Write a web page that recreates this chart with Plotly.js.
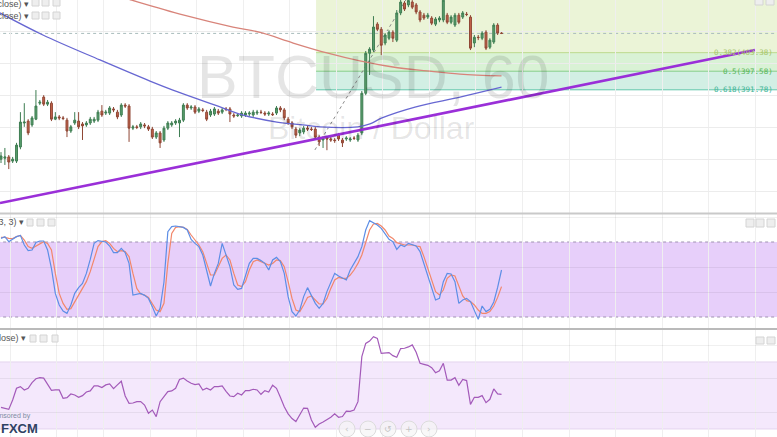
<!DOCTYPE html>
<html><head><meta charset="utf-8">
<script src="https://cdn.plot.ly/plotly-3.0.1.min.js"></script>
<style>html,body{margin:0;padding:0;background:#fff;overflow:hidden}#chart{width:777px;height:437px}</style>
</head><body><div id="chart"></div>
<script>
// ---------- DATA (BTCUSD, 60 min) ----------
const candleIndex = Array.from({length:130}, (_, i) => i);
const open = [370.1,370.4,370.8,369.5,369.5,373.9,381.4,382.0,380.8,382.6,
387.6,389.5,387.3,387.6,382.6,383.3,383.0,382.3,378.9,381.4,
382.0,381.1,380.8,381.4,382.0,382.3,385.1,384.5,384.5,385.8,
384.8,383.9,387.0,386.7,379.8,380.2,380.2,380.8,380.2,379.5,
377.0,378.3,376.1,379.8,380.8,381.4,381.4,382.3,387.0,386.1,
386.4,385.1,385.5,384.8,383.9,384.2,385.1,384.8,385.8,385.8,
383.9,383.7,383.6,383.9,384.2,383.9,384.5,384.8,384.5,384.2,
384.2,384.5,386.1,385.5,382.6,381.4,379.5,378.3,378.6,379.8,
379.5,379.5,377.0,376.1,376.7,376.4,376.1,377.6,376.1,376.4,
376.1,376.7,376.1,378.3,390.7,403.2,404.2,412.3,410.7,406.4,
407.9,409.8,407.3,415.8,418.9,418.3,419.2,418.3,416.1,415.1,
414.5,414.2,412.3,413.6,413.6,415.1,412.9,412.0,415.1,414.5,
415.4,414.5,406.4,408.2,407.9,409.8,405.1,406.7,412.0,409.5];
const high = [372.3,373.6,371.4,370.8,375.2,384.8,387.6,382.6,383.6,391.7,
388.6,390.1,388.6,388.2,384.8,383.9,383.6,383.0,380.8,384.8,
384.8,381.7,382.0,383.3,383.3,385.5,387.0,385.5,386.7,386.4,
385.5,387.6,387.6,387.3,380.8,380.8,381.7,381.4,380.8,380.2,
378.9,378.9,380.5,382.0,382.0,382.6,383.0,387.6,387.6,387.0,
387.0,386.4,386.1,385.5,385.8,386.4,385.8,386.1,386.4,386.4,
384.5,384.5,385.1,385.1,385.1,385.5,385.5,385.5,385.1,385.1,
384.8,386.7,386.7,386.1,383.3,382.0,380.2,379.8,380.5,380.5,
380.2,380.2,377.6,377.3,377.3,377.0,376.7,378.3,376.7,377.3,
377.0,377.3,378.3,391.4,403.9,405.1,414.8,412.9,411.4,409.5,
410.4,410.4,416.7,420.8,419.5,420.8,419.8,418.9,416.7,415.8,
415.8,414.8,414.5,414.8,420.5,415.8,415.1,415.8,415.8,416.4,
416.1,415.1,408.9,408.9,410.1,410.4,407.9,412.6,412.6,409.8];
const low = [368.9,368.3,367.0,368.9,368.9,373.2,380.2,377.6,380.2,382.3,
387.0,386.7,386.7,382.0,382.3,382.3,382.3,377.0,378.3,380.8,
379.5,376.1,380.2,380.8,381.4,381.7,383.3,383.9,383.9,384.8,
382.6,383.3,386.1,375.5,379.2,379.5,379.5,379.8,378.9,376.4,
376.4,373.6,375.5,379.2,380.2,380.8,377.0,381.7,385.5,385.5,
384.2,384.5,384.8,382.0,383.3,383.6,383.9,384.2,385.1,381.7,
383.0,383.3,383.0,383.3,383.6,383.3,383.9,384.2,383.6,383.6,
383.6,383.9,384.8,382.3,380.8,379.5,376.7,377.3,377.9,378.9,
378.9,376.4,374.2,373.6,372.9,375.5,375.2,375.8,373.9,375.8,
375.5,376.1,375.5,377.6,390.1,396.4,403.6,410.1,402.6,405.7,
407.3,406.7,406.7,415.1,416.4,417.6,417.0,415.4,412.9,413.6,
413.9,412.0,411.7,412.9,412.9,412.3,412.3,411.4,412.3,413.9,
414.8,404.2,405.1,407.3,407.3,404.2,404.5,406.1,408.9,409.2];
const close = [371.1,370.8,369.2,370.1,374.5,381.7,381.7,378.3,383.0,386.7,
387.9,387.3,387.9,382.6,383.3,383.0,382.8,378.9,380.2,382.3,
380.2,380.5,381.4,382.6,382.6,384.8,383.9,384.8,386.1,385.5,
383.3,387.0,386.7,379.8,380.2,380.0,381.1,380.5,379.5,377.0,
378.3,375.2,379.8,381.4,381.4,382.0,382.3,387.0,386.1,386.4,
384.8,385.8,385.3,382.6,385.1,385.8,384.5,385.5,385.6,384.2,
383.6,383.9,384.5,384.5,384.5,384.8,384.8,384.7,384.2,384.5,
384.0,386.1,385.5,383.0,381.4,380.2,377.6,379.2,379.8,379.5,
379.4,377.0,375.5,376.7,376.4,376.1,375.9,376.4,375.2,376.7,
376.4,376.6,377.6,390.7,403.2,404.5,411.4,410.7,405.7,408.9,
409.8,407.9,415.8,419.2,417.0,419.7,417.6,416.1,413.6,414.2,
415.1,412.6,413.9,414.2,419.8,412.9,414.5,415.1,412.9,415.8,
415.3,404.8,408.2,408.1,409.5,404.8,407.3,412.0,409.5,409.4];

// moving averages
const maRedX = [28.0,33.7,46.9,59.8,66.8,75.3,84.0,92.5,101.0,109.8,118.3,129.0];
const maRedY = [421.9,419.8,415.2,411.4,409.7,406.4,403.3,400.8,398.9,397.7,396.7,396.1];
const maBlueX = [-0.26,10.8,25.5,38.4,44.3,55.2,62.4,71.1,77.8,82.2,92.0,95.1,98.2,106.7,118.3,129.0];
const maBlueY = [415.8,408.9,401.1,394.5,391.7,387.0,383.9,381.7,380.8,380.2,380.2,381.1,383.0,386.4,389.5,392.6];

// rising trend line
const trendX = [-0.26, 194.3];
const trendY = [356.4, 404.2];

// Fibonacci retracement
const fibLevels = [0.382, 0.5, 0.618];
const fibPrices = [403.38, 397.58, 391.78];
const fibLowHigh = [372.99, 422.16];
const fibX = [80.9, 105.5];

// Stochastic (14,3,3)
const stochK = [82.9,84.3,80.3,82.1,84.3,85.3,77.6,73.1,73.6,79.7,
80.8,80.8,73.6,58.9,38.9,29.6,24.8,22.9,29.6,38.9,
43.5,46.9,54.9,66.1,78.9,81.1,80.8,80.0,76.8,71.5,
71.5,74.9,71.5,62.9,37.6,38.4,38.9,37.3,34.9,28.3,
20.8,27.0,48.0,88.3,92.3,92.8,92.3,91.7,89.6,82.1,
78.9,76.3,69.6,57.6,44.8,54.9,62.9,78.9,69.6,60.3,
45.6,42.1,42.9,52.3,62.9,66.9,66.9,65.1,62.9,57.6,
65.6,67.7,64.3,54.9,36.3,24.3,20.8,25.6,36.3,43.5,
36.8,30.9,26.9,30.9,40.3,48.3,54.9,52.8,50.9,49.6,
57.6,62.9,68.3,76.3,89.6,97.1,95.5,93.6,90.9,86.4,
82.1,80.3,74.1,77.6,76.3,78.9,78.1,76.8,72.3,62.9,
53.6,44.3,33.6,34.9,48.3,54.9,54.4,48.3,30.9,33.6,
34.9,32.3,25.6,18.1,28.8,24.3,26.1,32.0,43.7,57.6];
const stochD = [83.7,83.7,82.9,82.7,84.3,85.3,81.6,76.3,74.9,76.8,
78.9,80.3,78.9,73.6,54.9,38.9,30.9,26.1,26.7,32.3,
37.6,42.9,48.3,56.3,66.1,76.3,80.3,81.1,78.9,74.9,
72.3,73.1,72.3,68.3,54.9,42.9,38.4,37.6,35.7,30.9,
25.6,24.3,30.9,62.9,86.9,91.7,92.3,91.7,90.1,85.6,
81.6,77.6,72.3,62.9,53.6,53.6,60.3,66.9,69.6,65.6,
54.9,45.6,44.3,48.3,57.6,64.3,65.6,64.3,63.5,61.6,
62.9,65.6,65.1,60.3,48.3,34.9,25.6,24.3,29.6,35.7,
36.8,33.6,30.4,30.4,34.9,42.9,49.6,51.7,50.9,50.9,
53.6,57.6,62.9,69.6,80.3,89.6,94.4,94.9,92.8,89.6,
84.8,82.9,79.5,78.4,77.6,77.6,77.6,76.8,76.3,68.3,
58.9,48.3,40.3,37.6,41.6,50.9,53.6,52.8,44.3,36.8,
33.1,32.3,29.6,25.6,22.9,22.9,24.3,28.8,35.7,44.3];

// RSI (14, close)
const rsi = [42.9,42.3,41.7,47.3,54.3,55.3,53.3,54.3,57.7,60.0,
60.6,60.4,56.3,53.1,53.3,53.3,48.3,48.7,50.9,50.3,
48.9,49.9,52.1,52.7,55.7,55.7,54.7,56.3,56.9,54.1,
56.3,58.5,49.7,45.3,45.5,46.3,46.3,44.3,39.4,41.3,
37.4,46.3,49.3,52.3,52.7,54.3,59.6,60.4,58.7,57.3,
56.5,56.9,53.3,54.3,53.3,55.3,55.3,55.7,52.5,49.7,
49.3,51.3,50.3,52.9,52.9,53.7,53.3,50.7,52.9,52.1,
56.1,54.3,48.9,43.3,39.0,36.2,34.4,38.4,42.5,42.3,
35.4,31.0,33.0,34.2,35.4,37.0,39.0,37.0,37.4,40.7,
40.5,41.3,46.3,73.2,81.1,82.5,85.1,84.1,75.2,75.2,
75.6,73.8,72.8,78.0,78.2,79.0,80.2,75.8,69.2,68.6,
68.0,66.6,63.6,64.8,69.2,59.2,59.2,60.6,56.1,59.6,
58.9,44.7,48.9,48.9,49.9,45.7,47.7,53.9,50.9,50.7];

const legendTexts = ['SMA (200, close)', 'SMA (100, close)', 'Stoch (14, 3, 3)', 'RSI (14, close)'];
const navSymbols = ['\u2039', '\u2212', '\u21BA', '+', '\u203A'];

// ---------- LAYOUT HELPERS ----------
const W = 777, H = 437;
const PX = v => v / W, PY = v => 1 - v / H;
const lastPrice = close[close.length - 1];
const gridTicks = [2.4, 14.4, 19.6];
for (let t = 26.4; t < 200; t += 12) gridTicks.push(+t.toFixed(1));

const xBase = {range:[-0.26, 200], tickmode:'array', tickvals:gridTicks, showticklabels:false, ticks:'',
  showgrid:true, gridcolor:'#efefef', gridwidth:1, zeroline:false, showline:false, fixedrange:true};

const shapes = [];
// fib zones
const fStart = 81.2;
shapes.push({type:'rect', xref:'x', yref:'y', x0:fStart, x1:205, y0:fibPrices[0], y1:fibLowHigh[1]+5, fillcolor:'#ebf4d7', line:{width:0}, layer:'below'});
shapes.push({type:'rect', xref:'x', yref:'y', x0:fStart, x1:205, y0:fibPrices[1], y1:fibPrices[0], fillcolor:'#d9f2d5', line:{width:0}, layer:'below'});
shapes.push({type:'rect', xref:'x', yref:'y', x0:fStart, x1:205, y0:fibPrices[2], y1:fibPrices[1], fillcolor:'#d2efe4', line:{width:0}, layer:'below'});
const fibLineCols = ['#bcd98c', '#86cd8a', '#62c6ab'];
const fibTextCols = ['#a6c56a', '#56b456', '#3db394'];
fibPrices.forEach((p, k) => shapes.push({type:'line', xref:'x', yref:'y', x0:fStart, x1:205, y0:p, y1:p, line:{color:fibLineCols[k], width:1}, layer:'below'}));
// last price dotted line
shapes.push({type:'line', xref:'x', yref:'y', x0:-1, x1:205, y0:lastPrice, y1:lastPrice, line:{color:'#a9bcbc', width:1, dash:'dot'}, layer:'below'});
// fib diagonal
shapes.push({type:'line', xref:'x', yref:'y', x0:fibX[0], x1:fibX[1], y0:fibLowHigh[0], y1:fibLowHigh[1], line:{color:'#8a8a8a', width:1, dash:'dot'}, layer:'below'});
// stoch band
shapes.push({type:'rect', xref:'x2', yref:'y2', x0:-1, x1:205, y0:20, y1:80, fillcolor:'#e7cffa', line:{width:0}, layer:'below'});
[20, 80].forEach(v => shapes.push({type:'line', xref:'x2', yref:'y2', x0:-1, x1:205, y0:v, y1:v, line:{color:'#9f92b0', width:1, dash:'dot'}, layer:'below'}));
// rsi band
shapes.push({type:'rect', xref:'x3', yref:'y3', x0:-1, x1:205, y0:30, y1:70, fillcolor:'#f4e8fc', line:{width:0}, layer:'below'});
[30, 70].forEach(v => shapes.push({type:'line', xref:'x3', yref:'y3', x0:-1, x1:205, y0:v, y1:v, line:{color:'#e4d4ef', width:1}, layer:'below'}));
// pane separators
shapes.push({type:'line', xref:'paper', yref:'paper', x0:0, x1:1, y0:PY(213.5), y1:PY(213.5), line:{color:'#c9c9c9', width:2}});
shapes.push({type:'line', xref:'paper', yref:'paper', x0:0, x1:1, y0:PY(329), y1:PY(329), line:{color:'#a3a3a3', width:1.5}});
// small icon boxes
function box(x0, y0, x1, y1) {
  shapes.push({type:'rect', xref:'paper', yref:'paper', x0:PX(x0), x1:PX(x1), y0:PY(y1), y1:PY(y0), fillcolor:'#eeeeee', line:{color:'#d4d4d4', width:1}});
}
[[32,-3,39,6],[42,-3,49,6],[53,-3,60,6],
 [32,12,39,19],[42,12,49,19],[53,12,60,19],
 [27,219,33,226],[37,219,44,226],[48,219,55,226],
 [30,335,36,342],[40,335,47,342],[52,335,58,342],
 [755,-3,763,5],[766,-3,774,5],
 [746,219,754,227],[756,219,764,227],[767,219,775,227],
 [756,337,764,344],[767,337,775,344]].forEach(b => box(...b));
// nav circles
const navX = [347, 368, 388, 409, 429];
navX.forEach(x => shapes.push({type:'circle', xref:'paper', yref:'paper', x0:PX(x-8), x1:PX(x+8), y0:PY(437), y1:PY(421), fillcolor:'rgba(245,245,245,0.7)', line:{color:'#dcdcdc', width:1}}));

const annotations = [];
// watermark
annotations.push({xref:'paper', yref:'paper', x:PX(373), y:PY(77), text:'BTCUSD, 60', showarrow:false, xanchor:'center', yanchor:'middle',
  font:{family:'Liberation Sans, Arial, sans-serif', size:61, color:'rgba(0,0,0,0.10)'}});
annotations.push({xref:'paper', yref:'paper', x:PX(371), y:PY(128), text:'Bitcoin / Dollar', showarrow:false, xanchor:'center', yanchor:'middle',
  font:{family:'Liberation Sans, Arial, sans-serif', size:32, color:'rgba(0,0,0,0.10)'}});
// fib labels
fibPrices.forEach((p, k) => annotations.push({xref:'paper', yref:'y', x:PX(775), y:p, xanchor:'right', yanchor:'middle', showarrow:false,
  text:fibLevels[k] + '(' + p.toFixed(2) + ')', font:{family:'DejaVu Sans Mono, monospace', size:7.5, color:fibTextCols[k]}}));
// legend texts
const legPos = [[3.5, 31], [16, 31], [222, 26], [338, 28]];
legendTexts.forEach((t, k) => annotations.push({xref:'paper', yref:'paper', x:PX(legPos[k][1]), y:PY(legPos[k][0]), xanchor:'right', yanchor:'middle', showarrow:false,
  text:t + ' \u25BE', font:{family:'Liberation Sans, Arial, sans-serif', size:9, color:'#555'}}));
// sponsor
annotations.push({xref:'paper', yref:'paper', x:PX(33), y:PY(416), xanchor:'right', yanchor:'middle', showarrow:false,
  text:'Sponsored by', font:{family:'Liberation Sans, Arial, sans-serif', size:7, color:'#7d8ca3'}});
annotations.push({xref:'paper', yref:'paper', x:PX(-1), y:PY(428.5), xanchor:'left', yanchor:'middle', showarrow:false,
  text:'<b>FXCM</b>', font:{family:'Liberation Sans, Arial, sans-serif', size:13, color:'#2f4163'}});
navSymbols.forEach((s, k) => annotations.push({xref:'paper', yref:'paper', x:PX(navX[k]), y:PY(429), xanchor:'center', yanchor:'middle', showarrow:false,
  text:s, font:{family:'DejaVu Sans, sans-serif', size:9, color:'#c4c4c4'}}));

const traces = [
  {type:'candlestick', x:candleIndex, open:open, high:high, low:low, close:close, xaxis:'x', yaxis:'y',
   increasing:{line:{color:'#3e7d52', width:1}, fillcolor:'#5a9f6d'},
   decreasing:{line:{color:'#8f4634', width:1}, fillcolor:'#c4634b'},
   whiskerwidth:0, hoverinfo:'skip'},
  {type:'scatter', mode:'lines', x:maRedX, y:maRedY, xaxis:'x', yaxis:'y', line:{color:'#d8847a', width:1.3, shape:'spline'}, hoverinfo:'skip'},
  {type:'scatter', mode:'lines', x:maBlueX, y:maBlueY, xaxis:'x', yaxis:'y', line:{color:'#6767d2', width:1.3, shape:'spline'}, hoverinfo:'skip'},
  {type:'scatter', mode:'lines', x:trendX, y:trendY, xaxis:'x', yaxis:'y', line:{color:'#9a2fd8', width:2.6}, hoverinfo:'skip'},
  {type:'scatter', mode:'lines', x:candleIndex, y:stochD, xaxis:'x2', yaxis:'y2', line:{color:'#f2876a', width:1.2}, hoverinfo:'skip'},
  {type:'scatter', mode:'lines', x:candleIndex, y:stochK, xaxis:'x2', yaxis:'y2', line:{color:'#5d8ee6', width:1.2}, hoverinfo:'skip'},
  {type:'scatter', mode:'lines', x:candleIndex, y:rsi, xaxis:'x3', yaxis:'y3', line:{color:'#a35ab9', width:1.2}, hoverinfo:'skip'}
];

const layout = {
  width:W, height:H, margin:{l:0, r:0, t:0, b:0}, paper_bgcolor:'#ffffff', plot_bgcolor:'rgba(0,0,0,0)',
  showlegend:false, hovermode:false,
  xaxis:Object.assign({}, xBase, {anchor:'y', rangeslider:{visible:false}}),
  xaxis2:Object.assign({}, xBase, {anchor:'y2'}),
  xaxis3:Object.assign({}, xBase, {anchor:'y3'}),
  yaxis:{domain:[PY(213), 1], range:[353.28, 419.84], tick0:0, dtick:10, showticklabels:false, ticks:'', gridcolor:'#ececec', zeroline:false, showline:false, fixedrange:true},
  yaxis2:{domain:[PY(328), PY(214)], range:[11.2, 102.4], tickmode:'array', tickvals:[40, 60, 100], showticklabels:false, ticks:'', gridcolor:'rgba(0,0,0,0.06)', zeroline:false, showline:false, fixedrange:true},
  yaxis3:{domain:[0, PY(330)], range:[25.2, 89.1], tickmode:'array', tickvals:[40, 60, 80], showticklabels:false, ticks:'', gridcolor:'rgba(0,0,0,0.06)', zeroline:false, showline:false, fixedrange:true},
  shapes:shapes, annotations:annotations
};

Plotly.newPlot('chart', traces, layout, {displayModeBar:false, staticPlot:true});
</script></body></html>
